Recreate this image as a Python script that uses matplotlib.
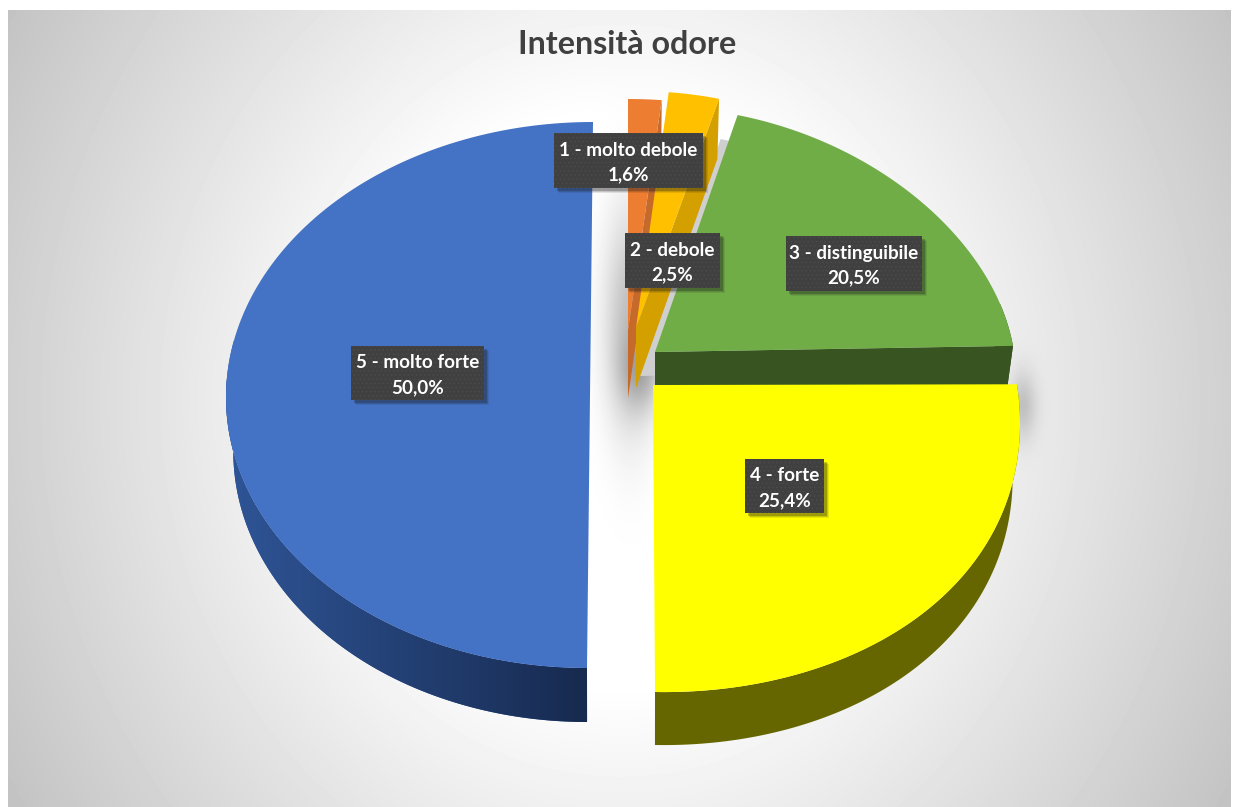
# -*- coding: utf-8 -*-
import numpy as np
import matplotlib
matplotlib.use("Agg")
import matplotlib.pyplot as plt
from matplotlib.patches import Rectangle, Polygon

title = "Intensità odore"
categories = ["1 - molto debole", "2 - debole", "3 - distinguibile", "4 - forte", "5 - molto forte"]
values = [1.6, 2.5, 20.5, 25.4, 50.0]
colors = ["#ED7D31", "#FFC000", "#70AD47", "#FFFF00", "#4472C4"]
wall_colors = ["#C56A2B", "#D3A000", "#375421", "#666600", "#2F5597"]

# pie geometry per slice in pixels: cx, cy, a, b, depth, persp, shear, tilt
geom = [
    (628, 330, 336, 231, 68, 0.0, 0, 0),
    (636, 328, 326, 237, 60, 0.0, 0, 0),
    (655, 352, 359, 245, 52, -0.10, 0, 0),
    (653, 385, 365, 307, 53, -0.10, -2, 7),
    (590, 395, 364, 273, 54, 0.0, 3, 0),
]
end_cut = [True, True, True, False, False]
# label boxes: x0, x1, y0, y1
boxes = [(554, 703, 133, 188), (625, 720, 233, 288), (786, 922, 236, 291),
         (745, 824, 459, 513), (351, 484, 346, 400)]

W, H = 1235, 807
plt.rcParams["hatch.linewidth"] = 0.5
plt.rcParams["font.family"] = ["Lato", "DejaVu Sans"]
fig = plt.figure(figsize=(W / 100, H / 100), dpi=100)
ax = fig.add_axes([0, 0, 1, 1])

# background gradient plus soft shadows
x0, x1, y0, y1 = 8, 1231, 10, 807
xx, yy = np.meshgrid(np.arange(x0, x1), np.arange(y0, y1))
dx = (xx - 620) / 612
dy = (yy - 400) / 400
bg = np.minimum(1, 1.135 - 0.32 * np.sqrt(dx ** 2 + 0.35 * dy ** 2))
for bx, by, sx, sy, amp in [(630, 320, 26, 110, 0.25), (642, 372, 22, 38, 0.2), (1022, 405, 14, 34, 0.17)]:
    bg = bg - amp * np.exp(-((xx - bx) / sx) ** 2 - ((yy - by) / sy) ** 2)
ax.imshow(bg, cmap="gray", vmin=0, vmax=1, extent=(x0, x1, y1, y0), aspect="auto", zorder=0)


def top_point(g, t):
    cx, cy, a, b, depth, persp, shear, tilt = g
    c, s = np.cos(t), np.sin(t)
    return cx + a * s * (1 + persp * c) + shear * c, cy - b * c + tilt * s


def bot_point(g, t):
    cx, depth = g[0], g[4]
    px, py = top_point(g, t)
    return cx + (px - cx) * 0.98, py + depth


edges = np.radians(np.cumsum([0] + values) * 3.6)

# thin cast shadow along the left side of the green slice
ts = np.linspace(edges[2], edges[3], 150)
tx, ty = top_point(geom[2], ts)
ax.add_patch(Polygon(np.column_stack([np.r_[geom[2][0], tx] - 17, np.r_[geom[2][1], ty] + 24]),
                     facecolor="#cfcfcf", edgecolor="none", zorder=1))

z = 2
# draw back to front: blue, orange, gold, green, yellow
for i in [4, 0, 1, 2, 3]:
    g = geom[i]
    ts = np.linspace(edges[i], edges[i + 1], 150)
    tx, ty = top_point(g, ts)
    bx, by = bot_point(g, ts)
    cx, cy, depth = g[0], g[1], g[4]
    if end_cut[i]:
        quad = [(cx, cy), (tx[-1], ty[-1]), (bx[-1], by[-1]), (cx, cy + depth)]
        ax.add_patch(Polygon(quad, facecolor=wall_colors[i], edgecolor="none", zorder=z))
    front = np.cos(ts) <= 0.2
    if front.any():
        wall = np.r_[np.column_stack([tx[front], ty[front]]), np.column_stack([bx[front], by[front]])[::-1]]
        wp = Polygon(wall, facecolor=wall_colors[i], edgecolor="none", zorder=z)
        ax.add_patch(wp)
        if i == 4:
            # blue side goes darker towards the front
            grad = np.linspace(0, 1, 256).reshape(1, -1)
            cm = matplotlib.colors.LinearSegmentedColormap.from_list("w", ["#2F5597", "#172A4F"])
            im = ax.imshow(grad, cmap=cm, extent=(225, 590, 740, 380), aspect="auto", zorder=z)
            im.set_clip_path(wp)
    ax.add_patch(Polygon(np.column_stack([np.r_[cx, tx], np.r_[cy, ty]]),
                         facecolor=colors[i], edgecolor="none", zorder=z + 0.5))
    z += 1

ax.set_xlim(0, W)
ax.set_ylim(H, 0)
ax.axis("off")

# data labels
for cat, val, box in zip(categories, values, boxes):
    bx0, bx1, by0, by1 = box
    for off, al in [(5, 0.10), (4, 0.15), (3, 0.25)]:
        ax.add_patch(Rectangle((bx0 + off, by0 + off), bx1 - bx0, by1 - by0,
                               facecolor="#1a1a1a", alpha=al, edgecolor="none", zorder=20))
    ax.add_patch(Rectangle((bx0, by0), bx1 - bx0, by1 - by0, facecolor="#404040",
                           edgecolor="#4c4c4c", hatch="....", lw=0, zorder=21))
    label = cat + "\n" + f"{val:.1f}%".replace(".", ",")
    ax.text((bx0 + bx1) / 2, (by0 + by1) / 2 + 2, label, color="white", fontsize=13.6, fontweight="bold",
            ha="center", va="center", linespacing=1.55, zorder=22)

ax.text(627, 44, title, color="#404040", fontsize=23.2, fontweight="bold", ha="center", va="center", zorder=22)

fig.savefig("out.png", dpi=100)
